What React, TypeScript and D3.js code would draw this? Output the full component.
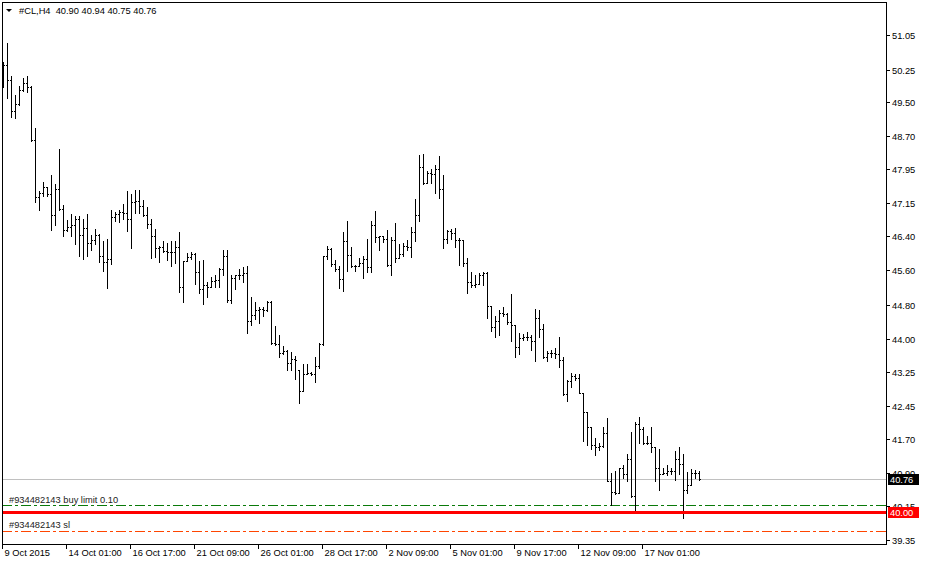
import React from 'react';
import * as d3 from 'd3';

const W = 926;
const H = 562;

const opens = [
  50.10, 50.36, 50.00, 49.28, 49.46, 49.78, 49.94, 49.84, 48.61, 47.29,
  47.39, 47.53, 47.37, 46.89, 47.49, 47.02, 46.54, 46.61, 46.66, 46.78,
  46.42, 46.58, 46.23, 46.29, 46.41, 45.94, 45.80, 45.86, 46.83, 46.91,
  46.95, 46.93, 46.78, 47.18, 47.20, 47.09, 46.88, 46.68, 46.39, 46.12,
  46.15, 46.04, 46.02, 46.03, 46.15, 45.21, 45.81, 45.90, 45.98, 45.57,
  45.17, 45.26, 45.22, 45.36, 45.38, 45.62, 45.93, 44.91, 45.42, 45.48,
  45.50, 45.54, 44.43, 44.57, 44.68, 44.70, 44.68, 44.86, 43.92, 43.89,
  43.68, 43.74, 43.45, 43.55, 43.28, 42.81, 43.20, 43.22, 43.20, 43.39,
  43.89, 45.93, 46.10, 45.75, 45.62, 45.40, 46.27, 45.96, 45.69, 45.71,
  45.76, 45.86, 45.67, 46.64, 46.37, 46.39, 46.33, 45.73, 46.30, 45.89,
  45.98, 46.17, 46.15, 46.48, 46.87, 47.99, 47.62, 47.86, 47.82, 47.95,
  47.49, 46.33, 46.51, 46.46, 46.31, 46.30, 45.77, 45.32, 45.26, 45.28,
  45.50, 45.53, 44.77, 44.28, 44.42, 44.61, 44.59, 44.40, 44.33, 43.83,
  44.03, 44.05, 44.06, 43.97, 44.50, 44.23, 43.59, 43.68, 43.69, 43.65,
  43.52, 42.74, 43.03, 43.16, 43.11, 42.76, 42.31, 41.98, 41.55, 41.50,
  41.54, 41.83, 40.72, 40.47, 40.44, 41.02, 40.88, 41.24, 40.36, 42.04,
  41.92, 41.61, 41.61, 41.51, 41.02, 40.89, 40.90, 40.94, 40.96, 41.23,
  41.11, 40.52, 40.63, 40.90, 40.90,
];
const highs = [
  50.42, 50.87, 50.11, 49.67, 49.86, 50.06, 50.09, 49.86, 48.90, 47.43,
  47.64, 47.54, 47.80, 47.59, 48.40, 47.12, 46.77, 46.91, 46.85, 46.85,
  46.78, 46.90, 46.41, 46.56, 46.43, 46.27, 46.33, 46.99, 46.96, 46.99,
  47.14, 47.43, 47.36, 47.45, 47.45, 47.22, 47.06, 46.78, 46.56, 46.17,
  46.27, 46.23, 46.27, 46.27, 46.48, 45.82, 45.99, 46.03, 45.99, 45.81,
  45.84, 45.32, 45.44, 45.50, 45.66, 46.06, 46.06, 45.50, 45.49, 45.63,
  45.67, 45.69, 44.99, 44.86, 44.74, 44.76, 44.88, 44.88, 44.30, 44.11,
  43.85, 43.76, 43.70, 43.61, 43.30, 43.43, 43.43, 43.24, 43.58, 43.92,
  45.94, 46.17, 46.12, 45.83, 45.69, 46.48, 46.73, 46.15, 45.73, 45.89,
  45.94, 46.33, 46.75, 46.98, 46.40, 46.40, 46.54, 46.37, 46.69, 46.21,
  46.23, 46.31, 46.60, 47.24, 48.26, 48.30, 47.89, 47.94, 48.03, 48.24,
  47.80, 46.54, 46.56, 46.58, 46.35, 46.30, 45.89, 45.56, 45.48, 45.53,
  45.57, 45.56, 44.77, 44.55, 44.67, 44.76, 44.61, 45.05, 44.33, 44.14,
  44.13, 44.18, 44.11, 44.71, 44.67, 44.36, 43.72, 43.75, 43.79, 44.06,
  43.60, 43.06, 43.21, 43.20, 43.20, 42.76, 42.31, 41.98, 41.71, 41.59,
  41.96, 42.18, 40.90, 40.96, 41.03, 41.09, 41.34, 41.85, 42.08, 42.21,
  41.98, 41.77, 41.98, 41.51, 41.46, 41.03, 41.09, 41.01, 41.42, 41.50,
  41.34, 40.92, 41.00, 40.98, 40.94,
];
const lows = [
  49.84, 49.59, 49.16, 49.13, 49.44, 49.75, 49.74, 48.59, 47.18, 46.99,
  47.33, 47.32, 46.54, 46.65, 47.00, 46.39, 46.52, 46.39, 46.21, 45.94,
  45.86, 45.94, 46.06, 46.21, 45.79, 45.58, 45.18, 45.75, 46.73, 46.71,
  46.78, 46.52, 46.11, 46.92, 46.92, 46.85, 46.57, 45.88, 45.90, 45.79,
  46.02, 45.83, 45.69, 45.77, 45.09, 44.86, 45.81, 45.85, 45.28, 45.07,
  44.82, 44.98, 45.21, 45.22, 45.21, 45.50, 44.86, 44.84, 45.17, 45.40,
  45.32, 44.15, 44.33, 44.47, 44.37, 44.53, 44.66, 43.89, 43.88, 43.58,
  43.66, 43.29, 43.29, 43.08, 42.53, 42.80, 43.20, 43.17, 43.02, 43.34,
  43.88, 45.86, 45.71, 45.59, 45.19, 45.11, 45.59, 45.67, 45.59, 45.70,
  45.42, 45.56, 45.57, 46.25, 46.08, 46.25, 45.71, 45.50, 45.79, 45.89,
  45.94, 46.06, 45.90, 46.27, 46.74, 47.59, 47.62, 47.62, 47.39, 47.28,
  46.11, 46.23, 46.33, 46.15, 45.73, 45.71, 45.07, 45.21, 45.22, 45.28,
  45.25, 44.50, 44.20, 44.05, 44.11, 44.55, 44.36, 43.97, 43.58, 43.66,
  43.99, 43.99, 43.76, 43.51, 44.05, 43.57, 43.51, 43.58, 43.57, 43.37,
  42.72, 42.58, 42.90, 43.06, 42.75, 41.65, 41.55, 41.46, 41.32, 41.44,
  41.50, 40.72, 40.16, 40.42, 40.44, 40.80, 40.72, 40.34, 39.98, 41.60,
  41.58, 41.58, 41.38, 40.72, 40.52, 40.88, 40.86, 40.88, 40.75, 40.88,
  39.86, 40.44, 40.63, 40.80, 40.75,
];
const closes = [
  50.36, 50.00, 49.28, 49.46, 49.78, 49.94, 49.84, 48.61, 47.29, 47.39,
  47.53, 47.37, 46.89, 47.49, 47.02, 46.54, 46.61, 46.66, 46.78, 46.42,
  46.58, 46.23, 46.29, 46.41, 45.94, 45.80, 45.86, 46.83, 46.91, 46.95,
  46.93, 46.78, 47.18, 47.20, 47.09, 46.88, 46.68, 46.39, 46.12, 46.15,
  46.04, 46.02, 46.03, 46.15, 45.21, 45.81, 45.90, 45.98, 45.57, 45.17,
  45.26, 45.22, 45.36, 45.38, 45.62, 45.93, 44.91, 45.42, 45.48, 45.50,
  45.54, 44.43, 44.57, 44.68, 44.70, 44.68, 44.86, 43.92, 43.89, 43.68,
  43.74, 43.45, 43.55, 43.53, 42.81, 43.20, 43.22, 43.20, 43.39, 43.89,
  45.93, 46.10, 45.75, 45.62, 45.40, 46.27, 45.96, 45.69, 45.71, 45.76,
  45.86, 45.67, 46.64, 46.37, 46.39, 46.33, 45.73, 46.30, 45.89, 45.98,
  46.17, 46.15, 46.48, 46.87, 47.99, 47.62, 47.86, 47.82, 47.95, 47.49,
  46.33, 46.51, 46.46, 46.31, 46.30, 45.77, 45.32, 45.26, 45.28, 45.50,
  45.53, 44.77, 44.28, 44.42, 44.61, 44.59, 44.40, 44.33, 43.83, 44.03,
  44.05, 44.06, 43.97, 44.50, 44.23, 43.59, 43.68, 43.69, 43.65, 43.52,
  42.74, 43.03, 43.16, 43.11, 42.76, 42.31, 41.98, 41.55, 41.50, 41.54,
  41.83, 40.72, 40.47, 40.44, 41.02, 40.88, 41.24, 40.36, 42.04, 41.92,
  41.61, 41.61, 41.51, 41.02, 40.89, 40.90, 40.94, 40.96, 41.23, 41.11,
  40.52, 40.63, 40.90, 40.90, 40.76,
];

const timeTickIndex = [0, 16, 32, 48, 64, 80, 96, 112, 128, 144, 160];
const timeTickLabels = [
  '9 Oct 2015', '14 Oct 01:00', '16 Oct 17:00', '21 Oct 09:00', '26 Oct 01:00',
  '28 Oct 17:00', '2 Nov 09:00', '5 Nov 01:00', '9 Nov 17:00', '12 Nov 09:00', '17 Nov 01:00',
];
const priceTicks = [51.05, 50.25, 49.5, 48.7, 47.95, 47.15, 46.4, 45.6, 44.8, 44.0, 43.25, 42.45, 41.7, 40.9, 40.15, 39.35];

const titleText = '#CL,H4  40.90 40.94 40.75 40.76';
const bidPrice = 40.76;
const alertPrice = 40.0;
const buyLimitPrice = 40.17;
const stopLossPrice = 39.55;
const buyLimitLabel = '#934482143 buy limit 0.10';
const stopLossLabel = '#934482143 sl';

const FONT = '"Liberation Sans", Arial, sans-serif';

export default function App() {
  const y = d3.scaleLinear().domain([39.35, 51.05]).range([540.1, 35]);
  const x = d3.scaleLinear().domain([0, 174]).range([3, 699]);
  const left = 2;
  const right = 886;
  const top = 2;
  const bottom = 544;
  const ry = (v: number) => Math.round(y(v));

  return (
    <div style={{ position: 'fixed', left: 0, top: 0, width: W, height: H, background: '#fff' }}>
      <svg width={W} height={H} style={{ display: 'block' }} fontFamily={FONT}>
        <rect x={0} y={0} width={W} height={H} fill="#fff" />
        {/* bid line */}
        <line x1={left} x2={right} y1={ry(bidPrice) + 0.5} y2={ry(bidPrice) + 0.5} stroke="#c0c0c0" strokeWidth={1} />
        {/* order lines */}
        <line x1={left} x2={right} y1={ry(buyLimitPrice) + 0.5} y2={ry(buyLimitPrice) + 0.5}
          stroke="#0a7a0a" strokeWidth={1} strokeDasharray="10,3,3,3" />
        <line x1={left} x2={right} y1={ry(stopLossPrice) + 0.5} y2={ry(stopLossPrice) + 0.5}
          stroke="#ff4500" strokeWidth={1} strokeDasharray="10,3,3,3" />
        {/* bars */}
        <g shapeRendering="crispEdges" fill="#000">
          {closes.map((c, i) => {
            const xi = Math.round(x(i));
            const yh = ry(highs[i]);
            const yl = ry(lows[i]);
            return (
              <g key={i}>
                <rect x={xi} y={yh} width={1} height={Math.max(1, yl - yh + 1)} />
                <rect x={xi - 1} y={ry(opens[i])} width={1} height={1} />
                <rect x={xi + 1} y={ry(c)} width={1} height={1} />
              </g>
            );
          })}
        </g>
        {/* alert red line */}
        <rect x={left} y={ry(alertPrice) - 1} width={right - left} height={3} fill="#ff0000" />
        {/* order labels */}
        <text x={9} y={ry(buyLimitPrice) - 2} fontSize={9.3} fill="#222">{buyLimitLabel}</text>
        <text x={9} y={ry(stopLossPrice) - 3} fontSize={9.3} fill="#222">{stopLossLabel}</text>
        {/* frame */}
        <rect x={left + 0.5} y={top + 0.5} width={right - left} height={bottom - top} fill="none" stroke="#000" strokeWidth={1} />
        {/* price axis */}
        <g>
          {priceTicks.map((p) => (
            <g key={p}>
              <line x1={right} x2={right + 4} y1={ry(p) + 0.5} y2={ry(p) + 0.5} stroke="#000" />
              <text x={892} y={ry(p) + 3.5} fontSize={9.3} fill="#000">{p.toFixed(2)}</text>
            </g>
          ))}
        </g>
        {/* price labels */}
        <rect x={888} y={ry(bidPrice) - 5} width={31} height={11} fill="#000" />
        <text x={890} y={ry(bidPrice) + 4} fontSize={9.3} fill="#fff">{bidPrice.toFixed(2)}</text>
        <rect x={888} y={ry(alertPrice) - 5} width={31} height={11} fill="#ff0000" />
        <text x={890} y={ry(alertPrice) + 4} fontSize={9.3} fill="#fff">{alertPrice.toFixed(2)}</text>
        {/* time axis */}
        <g>
          {timeTickIndex.map((idx, k) => {
            const xi = Math.round(x(idx)) - 0.5;
            return (
              <g key={idx}>
                <line x1={xi} x2={xi} y1={bottom} y2={bottom + 5} stroke="#000" />
                <text x={xi + 2} y={556} fontSize={9.3} fill="#000">{timeTickLabels[k]}</text>
              </g>
            );
          })}
        </g>
        {/* title */}
        <polygon points="6,9 12,9 9,12" fill="#000" />
        <text x={19} y={14} fontSize={9.3} fill="#000" style={{ whiteSpace: 'pre' }}>{titleText}</text>
      </svg>
    </div>
  );
}
